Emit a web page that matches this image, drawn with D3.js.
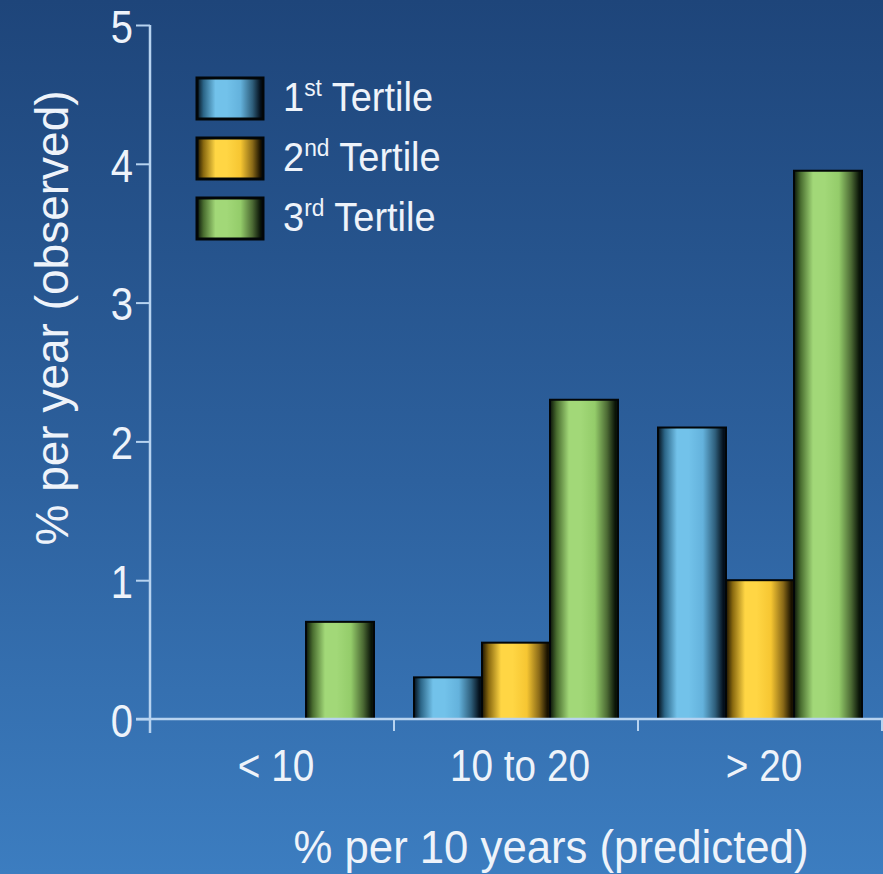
<!DOCTYPE html>
<html>
<head>
<meta charset="utf-8">
<script src="https://cdn.jsdelivr.net/npm/d3@7"></script>
<style>
  html, body { margin: 0; padding: 0; background: #2a5c98; }
  svg { display: block; }
  text { font-family: "Liberation Sans", Arial, Helvetica, sans-serif; fill: #eef3fa; }
</style>
</head>
<body>
<svg id="chart" width="883" height="874"></svg>
<script>
// Observed yearly event rate by predicted 10-year risk band, split by tertile
const categories = ["< 10", "10 to 20", "> 20"];
const seriesNames = ["1st", "2nd", "3rd"];
const seriesSuffix = ["st", "nd", "rd"];
const tertile1 = [0, 0.3, 2.1];
const tertile2 = [0, 0.55, 1.0];
const tertile3 = [0.7, 2.3, 3.95];
const yTicks = [0, 1, 2, 3, 4, 5];

const W = 883, H = 874;
const margin = { left: 150, right: 1, top: 25, bottom: 155 };

const svg = d3.select("#chart");
const defs = svg.append("defs");

// Background wash: dark navy at the top fading to a brighter blue
const bg = defs.append("linearGradient").attr("id", "bg")
  .attr("x1", 0).attr("y1", 0).attr("x2", 0).attr("y2", 1);
bg.append("stop").attr("offset", "0%").attr("stop-color", "#1e457a");
bg.append("stop").attr("offset", "55%").attr("stop-color", "#2d619e");
bg.append("stop").attr("offset", "100%").attr("stop-color", "#3c7dc0");
svg.append("rect").attr("width", W).attr("height", H).attr("fill", "url(#bg)");

// Cylinder-style shading for each series
const palettes = [
  { dark: "#04101c", mid: "#2c6688", light: "#72c2ea", base: "#64b2dc", shade: "#2f5f7c" },
  { dark: "#1a1200", mid: "#8a6a10", light: "#ffd644", base: "#f6c632", shade: "#8a6a18" },
  { dark: "#0a1408", mid: "#4a6e30", light: "#a2d878", base: "#94cc6a", shade: "#4c6a34" }
];
palettes.forEach((p, i) => {
  const g = defs.append("linearGradient").attr("id", "bar" + i)
    .attr("x1", 0).attr("y1", 0).attr("x2", 1).attr("y2", 0);
  [["0%", p.dark], ["10%", p.mid], ["28%", p.light], ["45%", p.light],
   ["66%", p.base], ["84%", p.shade], ["96%", p.dark], ["100%", p.dark]]
    .forEach(([o, c]) => g.append("stop").attr("offset", o).attr("stop-color", c));
});

const x0 = d3.scaleBand().domain(categories).range([margin.left, W - margin.right]);
const groupPad = 20;
const x1 = d3.scaleBand().domain(seriesNames)
  .range([groupPad, x0.bandwidth() - groupPad]);
const y = d3.scaleLinear().domain([0, 5]).range([H - margin.bottom, margin.top]);

const values = [tertile1, tertile2, tertile3];
const rows = [];
categories.forEach((c, ci) => {
  seriesNames.forEach((s, si) => {
    rows.push({ cat: c, s, si, v: values[si][ci] });
  });
});

// Bars
svg.append("g").selectAll("rect")
  .data(rows.filter(d => d.v > 0))
  .join("rect")
  .attr("x", d => x0(d.cat) + x1(d.s))
  .attr("y", d => y(d.v))
  .attr("width", x1.bandwidth())
  .attr("height", d => y(0) - y(d.v))
  .attr("fill", d => `url(#bar${d.si})`)
  .attr("stroke", "#020608")
  .attr("stroke-width", 2);

const axisColor = "#b7d3f0";

// Condensed lettering: draw at a larger size and squeeze horizontally
function condensed(sel, sx) {
  sel.each(function () {
    const t = d3.select(this);
    const x = +t.attr("x") || 0;
    t.attr("x", x / sx).attr("transform", `scale(${sx},1)`);
  });
}

// Y axis
const yAxis = svg.append("g")
  .attr("transform", `translate(${margin.left},0)`)
  .call(d3.axisLeft(y).tickValues(yTicks).tickFormat(d3.format("d")).tickSize(14).tickPadding(3));
yAxis.select(".domain").remove();
yAxis.selectAll(".tick line").attr("stroke", axisColor).attr("stroke-width", 2);
yAxis.selectAll(".tick text")
  .attr("fill", "#eef3fa")
  .style("font-size", "47px")
  .attr("dy", "0.37em")
  .call(condensed, 0.85);
svg.append("line")
  .attr("x1", margin.left).attr("x2", margin.left)
  .attr("y1", y(5)).attr("y2", y(0) + 14)
  .attr("stroke", axisColor).attr("stroke-width", 2.5);

// X axis
svg.append("line")
  .attr("x1", margin.left - 14).attr("x2", W)
  .attr("y1", y(0)).attr("y2", y(0))
  .attr("stroke", axisColor).attr("stroke-width", 2.5);
const sepTicks = categories.slice(1).map(c => x0(c)).concat([x0.range()[1]]);
svg.append("g").selectAll("line")
  .data(sepTicks)
  .join("line")
  .attr("x1", d => d).attr("x2", d => d)
  .attr("y1", y(0)).attr("y2", y(0) + 12)
  .attr("stroke", axisColor).attr("stroke-width", 2);

svg.append("g").selectAll("text")
  .data(categories)
  .join("text")
  .attr("x", d => x0(d) + x0.bandwidth() / 2 + 4)
  .attr("y", 781)
  .attr("text-anchor", "middle")
  .style("font-size", "44px")
  .text(d => d)
  .call(condensed, 0.88);

// Axis titles
svg.append("text")
  .attr("x", 551).attr("y", 863)
  .attr("text-anchor", "middle")
  .style("font-size", "47px")
  .text("% per 10 years (predicted)")
  .call(condensed, 0.93);

svg.append("text")
  .attr("transform", "translate(68,318) rotate(-90)")
  .attr("text-anchor", "middle")
  .style("font-size", "46px")
  .text("% per year (observed)");

// Legend
const legend = svg.append("g").attr("transform", "translate(197,78)");
const item = legend.selectAll("g")
  .data(seriesNames)
  .join("g")
  .attr("transform", (d, i) => `translate(0,${i * 60})`);
item.append("rect")
  .attr("width", 66).attr("height", 41)
  .attr("fill", (d, i) => `url(#bar${i})`)
  .attr("stroke", "#020608").attr("stroke-width", 3);
const label = item.append("text")
  .attr("x", 86).attr("y", 33)
  .style("font-size", "40px");
label.append("tspan").text(d => d.charAt(0));
label.append("tspan")
  .attr("dy", -15)
  .style("font-size", "24px")
  .text((d, i) => seriesSuffix[i]);
label.append("tspan")
  .attr("dy", 15)
  .text(" Tertile");
label.call(condensed, 0.95);
</script>
</body>
</html>
